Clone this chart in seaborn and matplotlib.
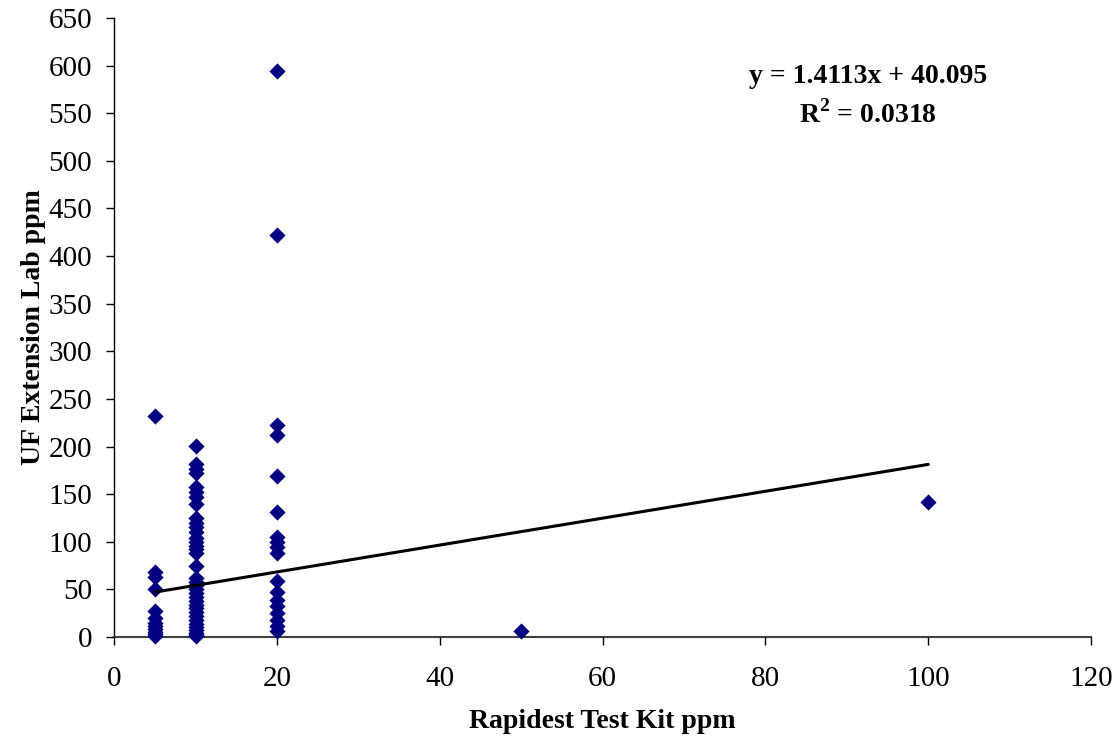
import numpy as np
import pandas as pd
import seaborn as sns
import matplotlib
matplotlib.use("Agg")
import matplotlib.pyplot as plt

# ---- data ----
x5_vals = [232, 68, 63, 50, 27, 20, 15, 12, 8, 5, 3, 1]
x10_vals = [201, 182, 176, 172, 157, 152, 147, 140, 125, 120, 115, 110, 104,
            100, 96, 92, 88, 75, 62, 58, 55, 50, 46, 42, 38, 34, 30, 26, 22,
            18, 14, 10, 7, 4, 2, 0.5]
x20_vals = [594, 422, 223, 212, 169, 131, 105, 100, 95, 88, 59, 47, 39, 32,
            25, 18, 11, 6]
x50_vals = [6]
x100_vals = [142]

slope = 1.4113
intercept = 40.095
r_squared = 0.0318

x_ticks = [0, 20, 40, 60, 80, 100, 120]
y_ticks = list(range(0, 651, 50))

rows = []
for xv, ys in [(5, x5_vals), (10, x10_vals), (20, x20_vals), (50, x50_vals), (100, x100_vals)]:
    for yv in ys:
        rows.append((xv, yv))
df = pd.DataFrame(rows, columns=["Rapidest Test Kit ppm", "UF Extension Lab ppm"])

sns.set_theme(style="white")
plt.rcParams["font.family"] = ["Liberation Serif", "DejaVu Serif"]
plt.rcParams["text.color"] = "black"
plt.rcParams["axes.labelcolor"] = "black"
plt.rcParams["mathtext.fontset"] = "custom"
plt.rcParams["mathtext.rm"] = "Liberation Serif"
plt.rcParams["mathtext.bf"] = "Liberation Serif:bold"

fig = plt.figure(figsize=(11.17, 7.41), dpi=100)
ax = fig.add_axes([0.1025, 0.1404, 0.8742, 0.8353])

sns.scatterplot(data=df, x="Rapidest Test Kit ppm", y="UF Extension Lab ppm",
                marker="D", color="#000080", edgecolor="#000080", s=68,
                linewidth=0, ax=ax, zorder=3, clip_on=False)

xmin, xmax = df["Rapidest Test Kit ppm"].min(), df["Rapidest Test Kit ppm"].max()
xl = np.array([xmin, xmax])
ax.plot(xl, slope * xl + intercept, color="black", linewidth=2.2, zorder=4)

ax.set_xlim(0, 120)
ax.set_ylim(0, 650)
ax.set_xticks(x_ticks)
ax.set_yticks(y_ticks)
ax.tick_params(axis="both", direction="out", length=6, width=1, colors="black",
               labelsize=21, bottom=True, left=True)
ax.tick_params(axis="x", pad=15)
ax.tick_params(axis="y", pad=10)
for sp in ["top", "right"]:
    ax.spines[sp].set_visible(False)
ax.spines["left"].set_color("black")
ax.spines["left"].set_linewidth(1)
ax.spines["bottom"].set_color("#404040")
ax.spines["bottom"].set_linewidth(1.5)
ax.set_axisbelow(False)

ax.set_xlabel("Rapidest Test Kit ppm", fontsize=20, fontweight="bold", labelpad=12)
ax.set_ylabel("UF Extension Lab ppm", fontsize=20, fontweight="bold", labelpad=2)

ax.text(0.7716, 0.9047, f"y = {slope}x + {intercept}", transform=ax.transAxes,
        fontsize=20, fontweight="bold", ha="center", va="center")
ax.text(0.7716, 0.845, r"R$^\mathbf{2}$" + f" = {r_squared}", transform=ax.transAxes,
        fontsize=20, fontweight="bold", ha="center", va="center")

fig.savefig("out.png", dpi=100)
